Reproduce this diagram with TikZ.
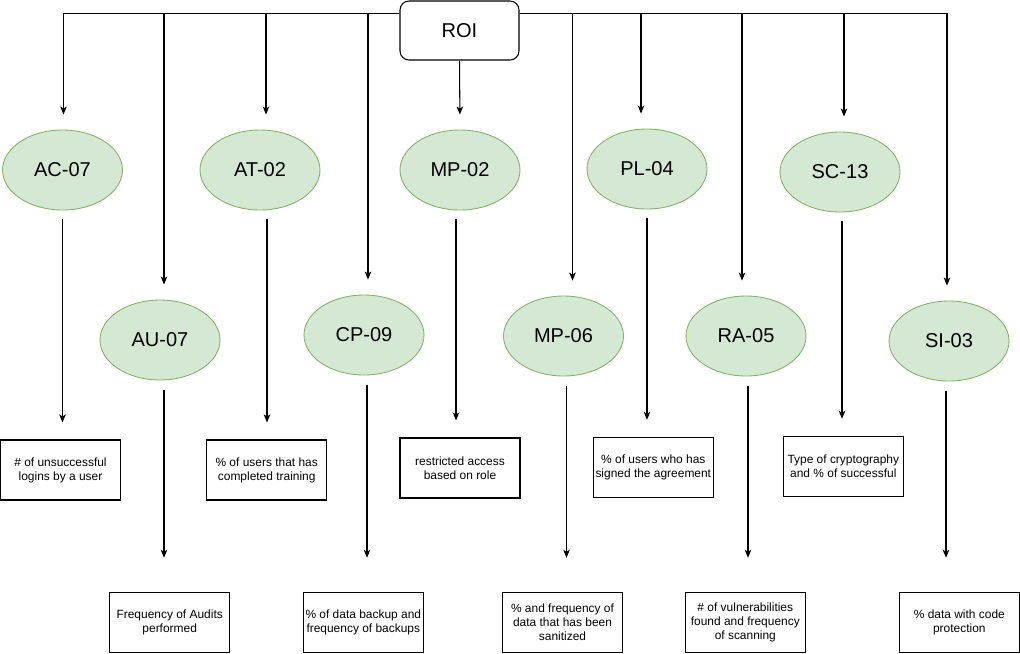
\documentclass[tikz,border=0pt]{standalone}
\usepackage{fontspec}
\setmainfont{Liberation Sans}
\usetikzlibrary{shapes.geometric}
\usetikzlibrary{arrows.meta}
\usetikzlibrary{calc}
\definecolor{ctrlfill}{HTML}{D5E8D4}
\definecolor{ctrldraw}{HTML}{82B366}
\tikzset{
every node/.style={ % Sets the font for all texts
font=\fontsize{6.8}{8}\selectfont, align=center},
root/.style={ % Sets the properties of the top box
draw, rounded corners=0.18cm, line width=0.6pt,
minimum width=2.38cm, minimum height=1.18cm, inner sep=0pt,
font=\fontsize{11.4}{13.6}\selectfont},
ctrl/.style={ % Sets the properties for each control
ellipse, draw=ctrldraw, fill=ctrlfill, line width=0.5pt,
minimum width=2.4cm, minimum height=1.6cm, inner sep=0pt,
font=\fontsize{11.4}{13.6}\selectfont},
metric/.style={ % Sets the properties for each measure box
draw, line width=0.6pt,
minimum width=2.4cm, minimum height=1.2cm, inner sep=0pt},
arr/.style={ % Sets the properties for each connector
draw, line width=0.6pt,
-{Stealth[length=0.16cm, width=0.13cm, inset=0.04cm]}}}

\begin{document}
\begin{tikzpicture}[x=0.02cm, y=-0.02cm]
\useasboundingbox (0,0) rectangle (1020,653);
\node[root] (ROI) at (459.5,30.5) {ROI};
\coordinate (busL) at ($(ROI.north west)+(0,13.3)$);
\coordinate (busR) at ($(ROI.north east)+(0,13.3)$);
% controls
\node[ctrl] (AC07) at (62.5,170) {AC-07};
\node[ctrl] (AT02) at (260,170) {AT-02};
\node[ctrl] (MP02) at (460,170) {MP-02};
\node[ctrl] (PL04) at (647,169) {PL-04};
\node[ctrl] (SC13) at (840,172) {SC-13};
\node[ctrl] (AU07) at (160,340) {AU-07};
\node[ctrl] (CP09) at (364,335) {CP-09};
\node[ctrl] (MP06) at (563.5,336) {MP-06};
\node[ctrl] (RA05) at (746,336) {RA-05};
\node[ctrl] (SI03) at (949,341) {SI-03};
% measures
\node[metric] (ACbox) at (60.5,470) {\# of unsuccessful\\logins by a user};
\node[metric] (ATbox) at (266.7,470) {\% of users that has\\completed training};
\node[metric] (MPbox) at (460,468) {restricted access\\based on role};
\node[metric] (PLbox) at (653.3,467.3) {\% of users who has\\signed the agreement};
\node[metric] (SCbox) at (843.3,466.3) {Type of cryptography\\and \% of successful};
\node[metric] (AUbox) at (169.7,622.3) {Frequency of Audits\\performed};
\node[metric] (CPbox) at (363.3,622.3) {\% of data backup and\\frequency of backups};
\node[metric] (MP6box) at (562.5,622.3) {\% and frequency of\\data that has been\\sanitized};
\node[metric] (RAbox) at (745.3,622.3) {\# of vulnerabilities\\found and frequency\\of scanning};
\node[metric] (SIbox) at (959.3,622.3) {\% data with code\\protection};
% ROI to controls
\draw[arr, shorten >=0.3cm] (busL) -| ($(AC07.north)+(1,0)$);
\draw[arr, shorten >=0.3cm] (busL) -| ($(AU07.north)+(4,0)$);
\draw[arr, shorten >=0.3cm] (busL) -| ($(AT02.north)+(6,0)$);
\draw[arr, shorten >=0.3cm] (busL) -| ($(CP09.north)+(4,0)$);
\draw[arr, shorten >=0.3cm] (ROI.south) -- (MP02.north);
\draw[arr, shorten >=0.3cm] (busR) -| ($(MP06.north)+(9,0)$);
\draw[arr, shorten >=0.3cm] (busR) -| ($(PL04.north)+(-6,0)$);
\draw[arr, shorten >=0.3cm] (busR) -| ($(RA05.north)+(-4,0)$);
\draw[arr, shorten >=0.3cm] (busR) -| ($(SC13.north)+(4,0)$);
\draw[arr, shorten >=0.3cm] (busR) -| ($(SI03.north)+(-2,0)$);
% controls to measures
\draw[arr, shorten <=0.18cm, shorten >=0.34cm] (AC07.south) -- (AC07.south |- ACbox.north);
\draw[arr, shorten <=0.18cm, shorten >=0.34cm] ($(AT02.south)+(7,0)$) -- ($(AT02.south |- ATbox.north)+(7,0)$);
\draw[arr, shorten <=0.18cm, shorten >=0.34cm] ($(MP02.south)+(-4,0)$) -- ($(MP02.south |- MPbox.north)+(-4,0)$);
\draw[arr, shorten <=0.18cm, shorten >=0.34cm] (PL04.south) -- (PL04.south |- PLbox.north);
\draw[arr, shorten <=0.18cm, shorten >=0.34cm] ($(SC13.south)+(2,0)$) -- ($(SC13.south |- SCbox.north)+(2,0)$);
\draw[arr, shorten <=0.2cm, shorten >=0.68cm] ($(AU07.south)+(4,0)$) -- ($(AU07.south |- AUbox.north)+(4,0)$);
\draw[arr, shorten <=0.2cm, shorten >=0.68cm] ($(CP09.south)+(3,0)$) -- ($(CP09.south |- CPbox.north)+(3,0)$);
\draw[arr, shorten <=0.2cm, shorten >=0.68cm] ($(MP06.south)+(3,0)$) -- ($(MP06.south |- MP6box.north)+(3,0)$);
\draw[arr, shorten <=0.2cm, shorten >=0.68cm] ($(RA05.south)+(2,0)$) -- ($(RA05.south |- RAbox.north)+(2,0)$);
\draw[arr, shorten <=0.2cm, shorten >=0.68cm] ($(SI03.south)+(-3,0)$) -- ($(SI03.south |- SIbox.north)+(-3,0)$);
\end{tikzpicture}
\end{document}
